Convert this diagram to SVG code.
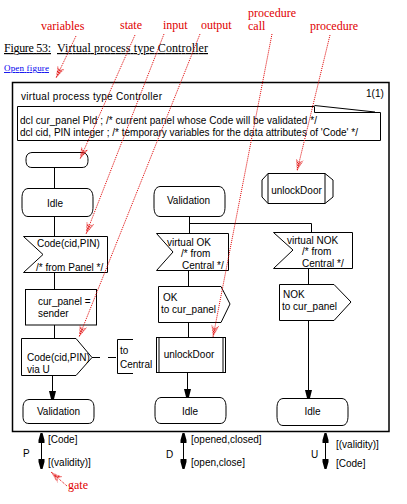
<svg xmlns="http://www.w3.org/2000/svg" width="407" height="504" viewBox="0 0 407 504">
<style>
.s{fill:#fff;stroke:#000;stroke-width:1}
.l{fill:none;stroke:#000;stroke-width:1}
.t{font-family:"Liberation Sans",Arial,sans-serif;font-size:10px;fill:#000}
.m{text-anchor:middle}
.r{font-family:"Liberation Serif","Times New Roman",serif;font-size:12px;fill:#e00000}
.p{fill:none;stroke:#e00000;stroke-width:1;stroke-dasharray:1 1}
</style>
<defs>
<pattern id="hatch" width="2" height="2" patternUnits="userSpaceOnUse">
<rect x="0" y="0" width="1" height="1" fill="#e00000"/>
<rect x="1" y="1" width="1" height="1" fill="#e00000"/>
</pattern>
<marker id="ra" markerUnits="userSpaceOnUse" viewBox="0 0 12 8" refX="12" refY="4" markerWidth="12" markerHeight="8" orient="auto">
<path d="M0,0 L12,4 L0,8 L3,4 Z" fill="url(#hatch)"/>
</marker>
<marker id="ba" markerUnits="userSpaceOnUse" viewBox="0 0 8 8" refX="8" refY="4" markerWidth="8" markerHeight="8" orient="auto">
<path d="M0,0.5 L8,2.5 L8,5.5 L0,7.5 Z" fill="#000"/>
</marker>
<marker id="ga" markerUnits="userSpaceOnUse" viewBox="0 0 10 8" refX="10" refY="4" markerWidth="10" markerHeight="8" orient="auto-start-reverse">
<path d="M0,1 L3,1 L10,3 L10,5 L3,7 L0,7 Z" fill="#000"/>
</marker>
</defs>
<rect width="407" height="504" fill="#fff"/>

<!-- header -->
<text x="4" y="52" font-family="Liberation Serif,'Times New Roman',serif" font-size="12" text-decoration="underline" textLength="47">Figure 53:</text>
<text x="57" y="52" font-family="Liberation Serif,'Times New Roman',serif" font-size="12" text-decoration="underline" textLength="151">Virtual process type Controller</text>
<text x="4" y="71" font-family="Liberation Serif,'Times New Roman',serif" font-size="9" fill="#0000ee" text-decoration="underline" textLength="45">Open figure</text>

<!-- frame -->
<g id="frame">
<rect x="12.5" y="82.5" width="376.5" height="349" fill="none" stroke="#000" stroke-width="1.5"/>
<text class="t" x="21" y="100" textLength="141">virtual process type Controller</text>
<text class="t" x="366" y="97">1(1)</text>
</g>

<g id="declarations">
<path class="s" d="M17.5,106.5 H314.5 V112.5 H380.5 V140.5 H17.5 Z"/>
<path class="l" d="M314.5,105.5 L375,112"/>
<text class="t" x="20" y="124" textLength="297">dcl cur_panel Pld ; /* current panel whose Code will be validated */</text>
<text class="t" x="20" y="136" textLength="338">dcl cid, PIN integer ; /* temporary variables for the data attributes of 'Code' */</text>
</g>

<!-- connectors -->
<g id="connectors">
<path class="l" d="M54.5,168 V188"/>
<path class="l" d="M54.5,217 V236"/>
<path class="l" d="M54.5,272 V289"/>
<path class="l" d="M54.5,325 V338"/>
<path class="l" d="M52.5,375 V399" marker-end="url(#ba)"/>
<path class="l" d="M92,357.5 H117" stroke-dasharray="8 8"/>
<path class="l" d="M189.5,217 V233"/>
<path class="l" d="M189.5,223.5 H311.5 V232"/>
<path class="l" d="M188.5,270 V286"/>
<path class="l" d="M188.5,322 V337"/>
<path class="l" d="M187.5,372 V397" marker-end="url(#ba)"/>
<path class="l" d="M308.5,268 V284"/>
<path class="l" d="M308.5,320 V398" marker-end="url(#ba)"/>
<!-- gates -->
<path class="l" d="M41.5,433 V469" marker-start="url(#ga)" marker-end="url(#ga)"/>
<path class="l" d="M183.5,433 V469" marker-start="url(#ga)" marker-end="url(#ga)"/>
<path class="l" d="M325.5,433 V469" marker-start="url(#ga)" marker-end="url(#ga)"/>
</g>

<g id="start">
<path class="s" d="M32,152.5 H82 C87,153 88,156 88,160 C88,164 87,167.5 82,167.5 H32 C27,167.5 26,164 26,160 C26,156 27,153 32,152.5 Z"/>
</g>

<g id="state-idle-1">
<path class="s" d="M28,188.5 H87 C92,189 93,194 93,198 V207 C93,211 92,216.5 87,216.5 H28 C23,216.5 22,211 22,207 V198 C22,194 23,189 28,188.5 Z"/>
<text class="t m" x="55" y="207">Idle</text>
</g>

<g id="input-code">
<path class="s" d="M23.5,236.5 H107.5 V272.5 H23.5 L43,254.5 Z"/>
<text class="t" x="37" y="247">Code(cid,PIN)</text>
<text class="t" x="36" y="271">/* from Panel */</text>
</g>

<g id="task">
<rect class="s" x="25.5" y="289.5" width="71" height="35.5"/>
<text class="t" x="38" y="305">cur_panel =</text>
<text class="t" x="38" y="317">sender</text>
</g>

<g id="output-code">
<path class="s" d="M21.5,338.5 H76 L92,357.5 L76,375.5 H21.5 Z"/>
<text class="t" x="27" y="361">Code(cid,PIN)</text>
<text class="t" x="27" y="373">via U</text>
</g>

<g id="to-central">
<path class="l" d="M133,339.5 H117.5 V373.5 H133"/>
<text class="t" x="120" y="354">to</text>
<text class="t" x="120" y="368">Central</text>
</g>

<g id="state-validation-2">
<path class="s" d="M29,399.5 H88 C93,400 94,404 94,408 V416 C94,420 93,423.5 88,423.5 H29 C24,423.5 23,420 23,416 V408 C23,404 24,400 29,399.5 Z"/>
<text class="t m" x="58.5" y="415">Validation</text>
</g>

<g id="state-validation-1">
<path class="s" d="M160,186.5 H219 C224,187 225,192 225,196 V207 C225,211 224,216.5 219,216.5 H160 C155,216.5 154,211 154,207 V196 C154,192 155,187 160,186.5 Z"/>
<text class="t m" x="188.5" y="204">Validation</text>
</g>

<g id="input-ok">
<path class="s" d="M156.5,233.5 H228.5 V270.5 H156.5 L173,252 Z"/>
<text class="t" x="167" y="246">virtual OK</text>
<text class="t" x="181" y="257">/* from</text>
<text class="t" x="182" y="269">Central */</text>
</g>

<g id="output-ok">
<path class="s" d="M158.5,286.5 H221 L230,304 L221,322.5 H158.5 Z"/>
<text class="t" x="163" y="301">OK</text>
<text class="t" x="161" y="313">to cur_panel</text>
</g>

<g id="procedure-call">
<rect class="s" x="156.5" y="337.5" width="69" height="35"/>
<path class="l" d="M159,337.5 V372.5 M223,337.5 V372.5"/>
<text class="t m" x="189" y="358">unlockDoor</text>
</g>

<g id="state-idle-2">
<path class="s" d="M161,397.5 H220 C225,398 226,403 226,407 V415 C226,419 225,423.5 220,423.5 H161 C156,423.5 155,419 155,415 V407 C155,403 156,398 161,397.5 Z"/>
<text class="t m" x="190" y="415">Idle</text>
</g>

<g id="input-nok">
<path class="s" d="M273.5,232.5 H352.5 V268.5 H273.5 L293,250 Z"/>
<text class="t" x="287" y="244">virtual NOK</text>
<text class="t" x="302" y="255">/* from</text>
<text class="t" x="302" y="267">Central */</text>
</g>

<g id="output-nok">
<path class="s" d="M279.5,284.5 H334 L351,302 L334,320.5 H279.5 Z"/>
<text class="t" x="283" y="298">NOK</text>
<text class="t" x="282" y="310">to cur_panel</text>
</g>

<g id="state-idle-3">
<path class="s" d="M283,398.5 H342 C347,399 348,404 348,408 V416 C348,420 347,425.5 342,425.5 H283 C278,425.5 277,420 277,416 V408 C277,404 278,399 283,398.5 Z"/>
<text class="t m" x="312.5" y="415">Idle</text>
</g>

<g id="procedure">
<path class="s" d="M268,173.5 H325 L333,180 V197 L325,203.5 H268 L262,197 V180 Z"/>
<path class="l" d="M268,173.5 V203.5 M325,173.5 V203.5"/>
<text class="t m" x="296.5" y="194">unlockDoor</text>
</g>

<g id="gate-labels">
<text class="t" x="48" y="443">[Code]</text>
<text class="t" x="23" y="457">P</text>
<text class="t" x="48" y="466">[(validity)]</text>
<text class="t" x="191" y="443">[opened,closed]</text>
<text class="t" x="166" y="458">D</text>
<text class="t" x="191" y="466">[open,close]</text>
<text class="t" x="336" y="448">[(validity)]</text>
<text class="t" x="311" y="458">U</text>
<text class="t" x="336" y="467">[Code]</text>
</g>

<g id="annotations">
<text class="r" x="41" y="30">variables</text>
<text class="r" x="120" y="29">state</text>
<text class="r" x="163" y="29">input</text>
<text class="r" x="201" y="29">output</text>
<text class="r" x="248" y="17">procedure</text>
<text class="r" x="248" y="30">call</text>
<text class="r" x="310" y="30">procedure</text>
<text class="r" x="68" y="489">gate</text>
<line class="p" x1="76" y1="36" x2="56" y2="78" marker-end="url(#ra)"/>
<line class="p" x1="135" y1="35" x2="80" y2="159" marker-end="url(#ra)"/>
<line class="p" x1="164" y1="34" x2="86" y2="234" marker-end="url(#ra)"/>
<line class="p" x1="200" y1="34" x2="79" y2="337" marker-end="url(#ra)"/>
<line class="p" x1="272" y1="34" x2="213" y2="337" marker-end="url(#ra)"/>
<line class="p" x1="330" y1="35" x2="297" y2="171" marker-end="url(#ra)"/>
<line class="p" x1="67" y1="486" x2="51" y2="472" marker-end="url(#ra)"/>
</g>
</svg>
